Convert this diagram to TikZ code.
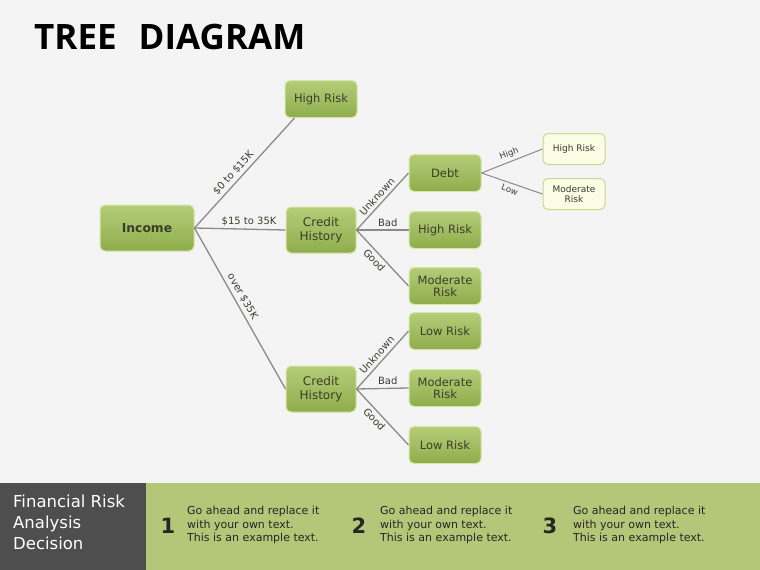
\documentclass[tikz,border=0pt]{standalone}
\usepackage{fontspec}
\setmainfont{DejaVu Sans}
\newfontfamily\titlefont{Open Sans}
\definecolor{bg}{HTML}{F4F4F4}
\definecolor{gtop}{HTML}{B4CD78}
\definecolor{gbot}{HTML}{8FAD4C}
\definecolor{gborder}{HTML}{D6E6A6}
\definecolor{ltfill}{HTML}{FAFCE4}
\definecolor{ltborder}{HTML}{C9D98E}
\definecolor{txt}{HTML}{3A3D2C}
\definecolor{linegray}{HTML}{8A8A8A}
\definecolor{band}{HTML}{B4C677}
\definecolor{dark}{HTML}{4E4E4E}
\tikzset{
  gbox/.style={rounded corners=5pt, top color=gtop, bottom color=gbot, draw=gborder, line width=1pt,
    minimum width=72pt, minimum height=37pt, align=center, text=txt, font=\fontsize{11.5}{12.5}\selectfont, inner sep=1pt},
  lbox/.style={rounded corners=5pt, fill=ltfill, draw=ltborder, line width=1pt,
    minimum width=62pt, minimum height=31pt, align=center, text=txt, font=\fontsize{9}{10.5}\selectfont, inner sep=1pt},
  conn/.style={draw=linegray, line width=1.3pt},
  elab/.style={font=\fontsize{10}{11}\selectfont, text=txt, inner sep=3pt},
  numlab/.style={font=\bfseries\fontsize{21}{22}\selectfont, text=black!85},
  bodytxt/.style={font=\fontsize{11}{13.5}\selectfont, text=black!85, align=left, anchor=west, inner sep=0pt},
}
\begin{document}
\begin{tikzpicture}[x=1pt,y=-1pt]
\useasboundingbox (0,0) rectangle (760,570);
\fill[bg] (0,0) rectangle (760,570);
\node[anchor=west, inner sep=0pt, font=\titlefont\bfseries\fontsize{35}{37}\selectfont] (title) at (34,37) {TREE\hspace{22pt}DIAGRAM};

% nodes
\node[gbox, minimum width=94pt, minimum height=46pt, font=\bfseries\fontsize{12.3}{14}\selectfont] (inc) at (147,228) {Income};
\node[gbox] (hr0) at (321,99) {High Risk};
\node[gbox, minimum width=70pt, minimum height=46pt, font=\fontsize{12}{13.5}\selectfont] (ch1) at (321,230) {Credit\\History};
\node[gbox, minimum width=70pt, minimum height=46pt, font=\fontsize{12}{13.5}\selectfont] (ch2) at (321,389) {Credit\\History};
\node[gbox] (debt) at (445,173) {Debt};
\node[gbox] (hr1) at (445,230) {High Risk};
\node[gbox] (mr1) at (445,286) {Moderate\\Risk};
\node[lbox] (hr2) at (574,149) {High Risk};
\node[lbox] (mr2) at (574,194) {Moderate\\Risk};
\node[gbox] (lr1) at (445,331) {Low Risk};
\node[gbox] (mr3) at (445,388) {Moderate\\Risk};
\node[gbox] (lr2) at (445,445) {Low Risk};

% connectors
\coordinate (i0) at (inc.east);
\coordinate (c1) at (ch1.east);
\coordinate (c2) at (ch2.east);
\coordinate (d0) at (debt.east);
\coordinate (hr0in) at ([xshift=10pt]hr0.south west);
\draw[conn] (i0) -- node[elab, sloped, above, pos=0.45] {\$0 to \$15K} (hr0in);
\draw[conn] (i0) -- node[elab, above, pos=0.6] {\$15 to 35K} (ch1.west);
\draw[conn] (i0) -- node[elab, sloped, above, pos=0.45] {over \$35K} (ch2.west);
\draw[conn] (c1) -- node[elab, sloped, above] {Unknown} (debt.west);
\draw[conn] (c1) -- node[elab, above, pos=0.6] {Bad} (hr1.west);
\draw[conn] (c1) -- node[elab, sloped, below, pos=0.45] {Good} (mr1.west);
\draw[conn] (c2) -- node[elab, sloped, above] {Unknown} (lr1.west);
\draw[conn] (c2) -- node[elab, above, pos=0.6] {Bad} (mr3.west);
\draw[conn] (c2) -- node[elab, sloped, below, pos=0.45] {Good} (lr2.west);
\draw[conn, line width=1pt] (d0) -- node[elab, sloped, above, font=\fontsize{8.5}{9}\selectfont] {High} (hr2.west);
\draw[conn, line width=1pt] (d0) -- node[elab, sloped, below, font=\fontsize{8.5}{9}\selectfont] {Low} (mr2.west);

% bottom band
\fill[band] (146,483) rectangle (760,570);
\fill[dark] (0,483) rectangle (146,570);
\node[anchor=north west, inner sep=0pt, align=left, text=white, font=\fontsize{16.5}{21}\selectfont] (fin) at (13,495) {Financial Risk\\Analysis\\Decision};
\node[numlab] (n1) at (168,526) {1};
\node[bodytxt] (t1) at (187,525) {Go ahead and replace it\\with your own text.\\This is an example text.};
\node[numlab] (n2) at (359,526) {2};
\node[bodytxt] (t2) at (380,525) {Go ahead and replace it\\with your own text.\\This is an example text.};
\node[numlab] (n3) at (550,526) {3};
\node[bodytxt] (t3) at (573,525) {Go ahead and replace it\\with your own text.\\This is an example text.};
\end{tikzpicture}
\end{document}
